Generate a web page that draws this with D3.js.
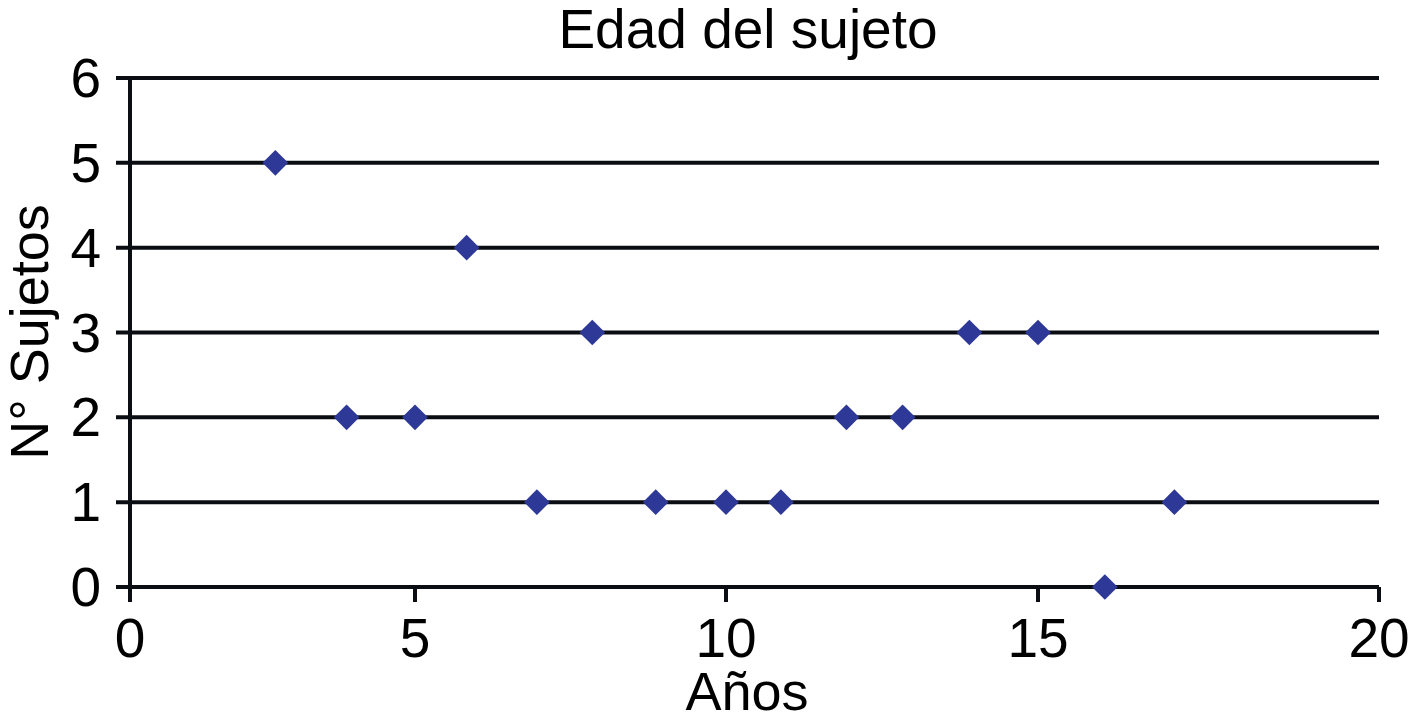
<!DOCTYPE html>
<html>
<head>
<meta charset="utf-8">
<script src="https://cdn.jsdelivr.net/npm/d3@7"></script>
<style>
	body{margin:0;background:#fff;}
	text{font-family:"Liberation Sans",Arial,sans-serif;fill:#000;}
</style>
</head>
<body>
<div class="chart"></div>
<script>
// ages (years) and number of subjects
const ages=[2.55,3.8,5,5.83,6.96,7.85,8.87,10,10.88,11.93,12.83,13.9,15,15.98,17]
const subjects=[5,2,2,4,1,3,1,1,1,2,2,3,3,0,1]
const xTicks=[0,5,10,15,20]
const yTicks=[0,1,2,3,4,5,6]

const data=ages.map((a,i)=>({age:a,n:subjects[i]}))

const width=1410,height=723

let svg=d3.select('.chart').append('svg')
	.attr('width',width)
	.attr('height',height)

// the printed axis is not evenly spaced, so follow its tick positions
let x=d3.scaleLinear()
	.domain(xTicks)
	.range([130,415,726,1038,1379])

let y=d3.scaleLinear()
	.domain([0,6])
	.range([587,78])

// horizontal grid lines, they also make the y ticks on the left
svg.selectAll('.grid')
	.data(yTicks)
	.enter()
	.append('line')
	.attr('class','grid')
	.attr('x1',116)
	.attr('x2',x(20))
	.attr('y1',d=>y(d))
	.attr('y2',d=>y(d))
	.attr('stroke','#0a0d12')
	.attr('stroke-width',4)

// y axis line
svg.append('line')
	.attr('x1',x(0)).attr('x2',x(0))
	.attr('y1',y(6)-2).attr('y2',y(0)+2)
	.attr('stroke','#0a0d12')
	.attr('stroke-width',4)

// x ticks
svg.selectAll('.xtick')
	.data(xTicks)
	.enter()
	.append('line')
	.attr('x1',d=>x(d))
	.attr('x2',d=>x(d))
	.attr('y1',y(0))
	.attr('y2',y(0)+15)
	.attr('stroke','#0a0d12')
	.attr('stroke-width',4)

svg.selectAll('.xlabel')
	.data(xTicks)
	.enter()
	.append('text')
	.attr('x',d=>x(d))
	.attr('y',657)
	.attr('text-anchor','middle')
	.attr('font-size',55)
	.text(d=>d)

svg.selectAll('.ylabel')
	.data(yTicks)
	.enter()
	.append('text')
	.attr('x',101)
	.attr('y',d=>y(d)+19)
	.attr('text-anchor','end')
	.attr('font-size',55)
	.text(d=>d)

svg.append('text')
	.attr('x',748)
	.attr('y',48)
	.attr('text-anchor','middle')
	.attr('font-size',55)
	.text('Edad del sujeto')

svg.append('text')
	.attr('x',747)
	.attr('y',710)
	.attr('text-anchor','middle')
	.attr('font-size',54)
	.text('Años')

svg.append('text')
	.attr('transform','translate(48,332) rotate(-90)')
	.attr('text-anchor','middle')
	.attr('font-size',54)
	.text('N° Sujetos')

// diamond markers
const diamond=d3.symbol().type(d3.symbolSquare).size(330)

svg.selectAll('.pt')
	.data(data)
	.enter()
	.append('path')
	.attr('class','pt')
	.attr('d',diamond)
	.attr('transform',d=>'translate('+x(d.age)+','+y(d.n)+') rotate(45)')
	.attr('fill','#2e3896')
</script>
</body>
</html>
